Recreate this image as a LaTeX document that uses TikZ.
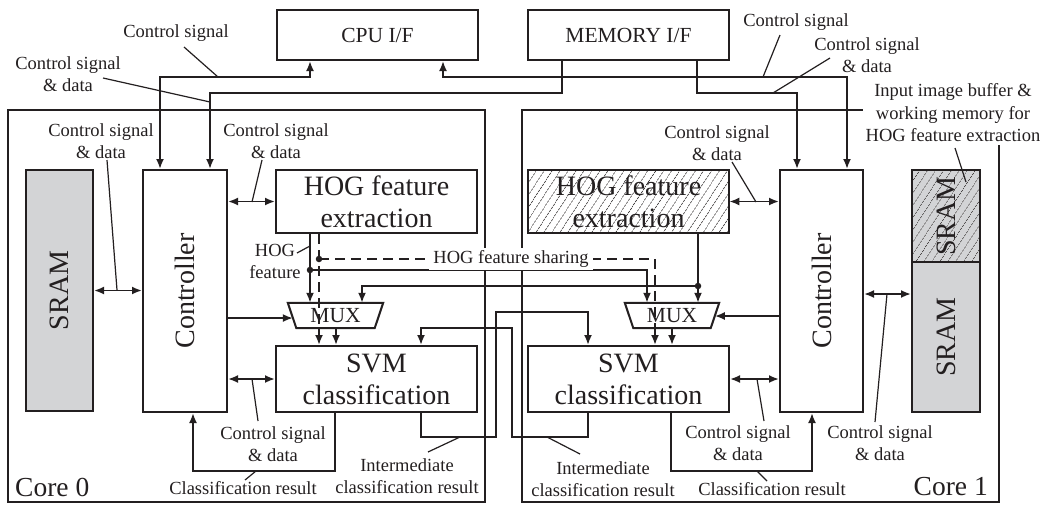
\documentclass[tikz,border=0pt]{standalone}
\usepackage{fontspec}
\setmainfont{Liberation Serif}
\usepackage{graphicx}
\usetikzlibrary{arrows.meta,patterns.meta,calc}
\definecolor{ink}{RGB}{35,31,32}
\definecolor{sramgray}{RGB}{211,212,214}
\tikzset{
  blk/.style={draw=ink, line width=2pt, fill=white, inner sep=0pt},
  corebox/.style={draw=ink, line width=2pt, inner sep=0pt},
  wire/.style={draw=ink, line width=1.9pt},
  shared/.style={wire, dash pattern=on 10pt off 6pt},
  leader/.style={draw=ink, line width=1.2pt},
  lbl/.style={font=\fontsize{18.5}{22}\selectfont, align=center, inner sep=0pt, text=ink},
  bigtxt/.style={font=\fontsize{28}{32}\selectfont, align=center, text=ink},
  midtxt/.style={font=\fontsize{21.5}{24}\selectfont, text=ink},
  hatch/.style={pattern={Lines[angle=57,distance=6.5pt,line width=0.6pt]}, pattern color=ink!85},
  junction/.style={circle, fill=ink, inner sep=0pt, minimum size=6.5pt},
}
\begin{document}
\begin{tikzpicture}[x=1pt,y=-1pt,>={Latex[length=10pt,width=8pt]}]
\useasboundingbox (0,0) rectangle (1050,504);

% ---- the two cores ----
\node[corebox, minimum width=477pt, minimum height=392pt] (core0) at (246.5,306) {};
\node[corebox, minimum width=477pt, minimum height=392pt] (core1) at (760.5,306) {};
\node[font=\fontsize{27.5}{30}\selectfont, text=ink, anchor=west, inner sep=0pt] (core0name) at (15,487) {Core 0};
\node[font=\fontsize{27.5}{30}\selectfont, text=ink, anchor=east, inner sep=0pt] (core1name) at (988,487) {Core 1};

% ---- host interfaces ----
\node[blk, midtxt, minimum width=201pt, minimum height=50pt] (cpu) at (377.5,35) {CPU I/F};
\node[blk, midtxt, minimum width=201pt, minimum height=50pt] (mem) at (628.5,35) {MEMORY I/F};

% ---- core 0 blocks ----
\node[blk, fill=sramgray, bigtxt, minimum width=67pt, minimum height=241pt] (sram0) at (59.5,290.5) {\rotatebox{90}{SRAM}};
\node[blk, bigtxt, minimum width=84pt, minimum height=242pt] (ctrl0) at (185,291) {\rotatebox{90}{Controller}};
\node[blk, bigtxt, minimum width=201pt, minimum height=63pt] (hog0) at (376.5,201.5) {HOG feature\\extraction};
\node[blk, bigtxt, minimum width=201pt, minimum height=66pt] (svm0) at (376.5,379) {SVM\\classification};

% ---- core 1 blocks ----
\node[blk, bigtxt, preaction={fill=white}, hatch, minimum width=201pt, minimum height=63pt] (hog1) at (628.5,201.5) {HOG feature\\extraction};
\node[blk, bigtxt, minimum width=201pt, minimum height=66pt] (svm1) at (628.5,379) {SVM\\classification};
\node[blk, bigtxt, minimum width=83pt, minimum height=242pt] (ctrl1) at (821.5,291) {\rotatebox{90}{Controller}};
\node[blk, bigtxt, preaction={fill=sramgray}, hatch, minimum width=68pt, minimum height=92pt] (sram1a) at (946,216) {\rotatebox{90}{SRAM}};
\node[blk, fill=sramgray, bigtxt, minimum width=68pt, minimum height=150pt] (sram1b) at (946,337) {\rotatebox{90}{SRAM}};

% ---- multiplexers ----
\node[midtxt, minimum width=95pt, minimum height=25pt, inner sep=0pt] (mux0) at (335.5,315.5) {MUX};
\coordinate (mux0bl) at ([xshift=8.5pt]mux0.south west);
\coordinate (mux0br) at ([xshift=-8.5pt]mux0.south east);
\draw[ink, line width=2pt] (mux0.north west) -- (mux0.north east) -- (mux0br) -- (mux0bl) -- cycle;
\coordinate (mux0in) at ($(mux0.north west)!0.6!(mux0bl)$);

\node[midtxt, minimum width=94pt, minimum height=25pt, inner sep=0pt] (mux1) at (672,315.5) {MUX};
\coordinate (mux1bl) at ([xshift=8.5pt]mux1.south west);
\coordinate (mux1br) at ([xshift=-8.5pt]mux1.south east);
\draw[ink, line width=2pt] (mux1.north west) -- (mux1.north east) -- (mux1br) -- (mux1bl) -- cycle;
\coordinate (mux1in) at ($(mux1.north east)!0.52!(mux1br)$);

% ---- top buses to the interfaces ----
\coordinate (xCa) at (160,0);
\coordinate (xMa) at (210,0);
\coordinate (xCpu0) at (310,0);
\coordinate (xCpu1) at (443,0);
\coordinate (xMem0) at (562,0);
\coordinate (xMem1) at (697,0);
\coordinate (xMb) at (797,0);
\coordinate (xCb) at (847,0);
\coordinate (yCtl) at (0,77);
\coordinate (yDat) at (0,93);
\draw[wire,<->] (ctrl0.north -| xCa) |- (xCpu0 |- yCtl) -- (cpu.south -| xCpu0);
\draw[wire,->] (mem.south -| xMem0) |- (xMa |- yDat) -- (ctrl0.north -| xMa);
\draw[wire,<->] (cpu.south -| xCpu1) |- (xCb |- yCtl) -- (ctrl1.north -| xCb);
\draw[wire,->] (mem.south -| xMem1) |- (xMb |- yDat) -- (ctrl1.north -| xMb);

% ---- links inside the cores ----
\draw[wire,<->] (sram0.east) -- (sram0.east -| ctrl0.west);
\draw[wire,<->] (ctrl0.east |- hog0.west) -- (hog0.west);
\draw[wire,<->] (ctrl0.east |- svm0.west) -- (svm0.west);
\draw[wire,->] (ctrl0.east |- mux0in) -- (mux0in);
\draw[wire,<->] (hog1.east) -- (hog1.east -| ctrl1.west);
\draw[wire,<->] (svm1.east) -- (svm1.east -| ctrl1.west);
\draw[wire,->] (ctrl1.west |- mux1in) -- (mux1in);
\coordinate (ySr1) at (0,294);
\draw[wire,<->] (ctrl1.east |- ySr1) -- (sram1b.west |- ySr1);

% ---- HOG feature paths and sharing ----
\coordinate (h0s) at (310,0);
\coordinate (h0d) at (319,0);
\coordinate (m0b) at (336,0);
\coordinate (h1x) at (362,0);
\coordinate (h0x) at (647,0);
\coordinate (h1d) at (655,0);
\coordinate (m1b) at (672,0);
\coordinate (h1s) at (698,0);
\coordinate (rowDash) at (0,259);
\coordinate (rowH0) at (0,270);
\coordinate (rowH1) at (0,286);
\draw[wire,->] (hog0.south -| h0s) -- (mux0.north -| h0s);
\draw[wire,->] (h0s |- rowH0) -| (mux1.north -| h0x);
\node[junction] (j0) at (h0s |- rowH0) {};
\draw[wire,->] (hog1.south -| h1s) -- (mux1.north -| h1s);
\draw[wire,->] (h1s |- rowH1) -| (mux0.north -| h1x);
\node[junction] (j1) at (h1s |- rowH1) {};
\draw[shared] (hog0.south -| h0d) -- (mux0.south -| h0d);
\draw[shared] (h0d |- rowDash) -| (mux1.south -| h1d);
\node[junction] (jd) at (h0d |- rowDash) {};
\node[lbl, fill=white, inner xsep=4pt, inner ysep=2pt] (share) at (511,259) {HOG feature sharing};
\draw[wire,->] (mux0.south -| h0d) -- (svm0.north -| h0d);
\draw[wire,->] (mux0.south -| m0b) -- (svm0.north -| m0b);
\draw[wire,->] (mux1.south -| h1d) -- (svm1.north -| h1d);
\draw[wire,->] (mux1.south -| m1b) -- (svm1.north -| m1b);

% ---- intermediate classification results exchanged ----
\coordinate (i0) at (421,0);
\coordinate (i1) at (588,0);
\coordinate (u0) at (496,0);
\coordinate (u1) at (512,0);
\coordinate (rowI) at (0,437);
\coordinate (rowT0) at (0,312);
\coordinate (rowT1) at (0,328);
\draw[wire,->] (svm0.south -| i0) |- (u0 |- rowI) |- (i1 |- rowT0) -- (svm1.north -| i1);
\draw[wire,->] (svm1.south -| i1) |- (u1 |- rowI) |- (i0 |- rowT1) -- (svm0.north -| i0);

% ---- classification results back to the controllers ----
\coordinate (k0) at (335,0);
\coordinate (k0c) at (193,0);
\coordinate (k1) at (671,0);
\coordinate (k1c) at (812,0);
\coordinate (rowK) at (0,471);
\draw[wire,->] (svm0.south -| k0) |- (k0c |- rowK) -- (ctrl0.south -| k0c);
\draw[wire,->] (svm1.south -| k1) |- (k1c |- rowK) -- (ctrl1.south -| k1c);

% ---- annotations ----
\node[lbl] (lcs0) at (176,33) {Control signal};
\draw[leader] (184,47) -- (218,77);
\node[lbl] (lcd0) at (68,74) {Control signal\\\& data};
\draw[leader] (103,78) -- (210,102);
\node[lbl] (lsr0) at (101,141) {Control signal\\\& data};
\draw[leader] (107,160) -- (117,290);
\node[lbl] (lhg0) at (276,141) {Control signal\\\& data};
\draw[leader] (262,160) -- (252,202);
\node[lbl] (lsv0) at (273,444) {Control signal\\\& data};
\draw[leader] (258,421) -- (252,379);
\node[lbl] (lcr0) at (243,488) {Classification result};
\draw[leader] (245,480) -- (256,471);
\node[lbl] (lic0) at (407,476) {Intermediate\\classification result};
\draw[leader] (428,452) -- (460,437);
\node[lbl] (lhf) at (275,261) {HOG\\feature};
\draw[leader] (297,253) -- (310,246);

\node[lbl] (lic1) at (603,479) {Intermediate\\classification result};
\draw[leader] (580,454) -- (547,437);
\node[lbl] (lsv1) at (738,443) {Control signal\\\& data};
\draw[leader] (764,421) -- (757,379);
\node[lbl] (lcr1) at (772,489) {Classification result};
\draw[leader] (767,481) -- (757,471);
\node[lbl] (lsr1) at (880,443) {Control signal\\\& data};
\draw[leader] (875,422) -- (887,294);
\node[lbl] (lhg1) at (717,143) {Control signal\\\& data};
\draw[leader] (732,162) -- (756,202);
\node[lbl] (lcs1) at (796,22) {Control signal};
\draw[leader] (780,35) -- (763,77);
\node[lbl] (lcd1) at (867,55) {Control signal\\\& data};
\draw[leader] (830,58) -- (773,93);
\node[lbl, fill=white, font=\fontsize{18.5}{22.5}\selectfont, inner xsep=3pt, inner ysep=3pt] (limg) at (953,113) {Input image buffer \&\\working memory for\\HOG feature extraction};
\draw[leader] (955,148) -- (966,182);

\end{tikzpicture}
\end{document}
